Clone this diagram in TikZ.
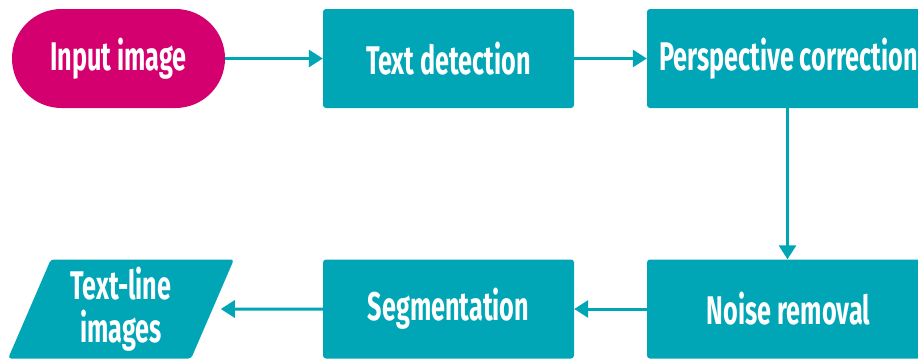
\documentclass[tikz,border=0pt]{standalone}
\usepackage{fontspec}
\setmainfont[FakeStretch=0.63]{Fira Sans}
\usetikzlibrary{arrows.meta,shapes.geometric}
\definecolor{flowteal}{HTML}{00A6B6}
\definecolor{flowpink}{HTML}{D5006F}
\tikzset{
  x=1pt, y=1pt,
  boxfont/.style={font=\fontsize{40}{40}\selectfont\bfseries},
  stepbox/.style={fill=flowteal, rounded corners=3pt, minimum height=99pt,
    text=white, boxfont, inner sep=0pt},
  startbox/.style={fill=flowpink, rounded corners=49.5pt, minimum height=99pt,
    minimum width=213pt, text=white, boxfont, inner sep=0pt},
  iobox/.style={trapezium, trapezium left angle=70, trapezium right angle=110,
    trapezium stretches=true, fill=flowteal, rounded corners=3pt,
    minimum height=99pt, minimum width=226pt, text=white, align=center,
    boxfont, inner sep=0pt},
  flow/.style={draw=flowteal, line width=3pt,
    -{Triangle[length=14pt,width=17pt]}},
}
\begin{document}
\begin{tikzpicture}
\useasboundingbox (0,0) rectangle (918,360);
\clip (0,0) rectangle (918,360);
\fill[white] (0,0) rectangle (918,360);
% top row
\node[startbox] (input) at (118.5,301.5) {Input image};
\node[stepbox, minimum width=251pt] (detect) at (448.5,301.5) {Text detection};
\node[stepbox, minimum width=283pt] (persp) at (788.5,301.5) {Perspective correction};
% bottom row
\node[stepbox, minimum width=283pt] (noise) at (788.5,51) {Noise removal};
\node[stepbox, minimum width=251pt] (segment) at (448.5,51) {Segmentation};
\node[iobox] (lines) at (121,51) {Text-line\\[3pt]images};
% connectors
\draw[flow] (input) -- (detect);
\draw[flow] (detect) -- (persp);
\draw[flow] (persp.south -| 787.5,0) -- (noise.north -| 787.5,0);
\draw[flow] (noise) -- (segment);
\draw[flow, shorten >=8pt] (segment) -- (lines);
\end{tikzpicture}
\end{document}
